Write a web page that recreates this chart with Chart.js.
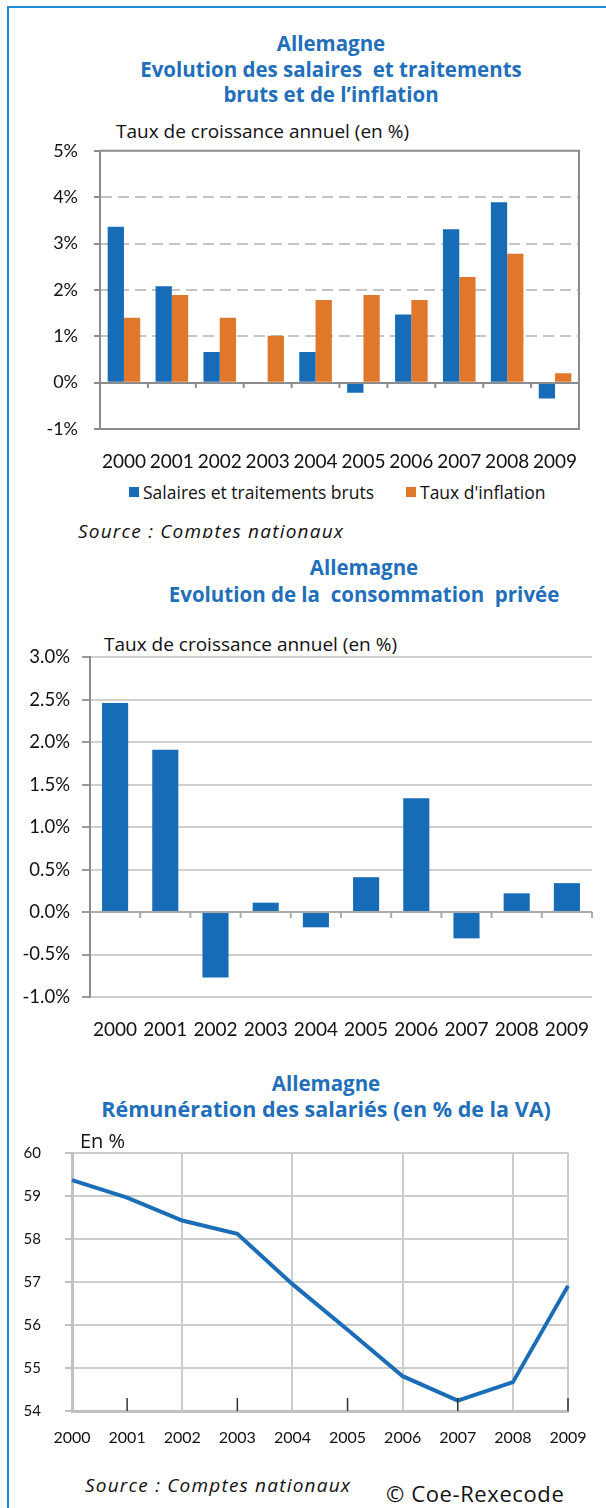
<!DOCTYPE html>
<html lang="fr">
<head>
<meta charset="utf-8">
<title>Allemagne</title>
<script src="https://cdn.jsdelivr.net/npm/chart.js"></script>
<style>
    body {
        margin: 0;
        padding: 0;
        background: #fff;
        font-family: 'Open Sans', sans-serif;
        color: #111;
    }
    #page {
        position: relative;
        width: 606px;
        height: 1508px;
        overflow: hidden;
    }
    /* blue frame on the left and top */
    .frame {
        position: absolute;
        left: 7px;
        top: 6px;
        right: -4px;
        bottom: -4px;
        border-left: 2px solid #1d8ad6;
        border-top: 2px solid #1d8ad6;
    }
    .t { position: absolute; white-space: nowrap; }
    .title {
        color: #1f6fbb;
        font-weight: bold;
        font-size: 20.5px;
        line-height: 24px;
        width: 600px;
        text-align: center;
    }
    .sub { font-size: 19px; line-height: 24px; }
    .src { font-style: italic; font-size: 19px; line-height: 22px; letter-spacing: 1.2px; }
    .sq { position: absolute; width: 10px; height: 10px; }
    canvas { position: absolute; }
</style>
</head>
<body>
<div id="page">
    <div class="frame"></div>

    <!-- chart 1 -->
    <div class="t title" style="left:31px; top:31px;">Allemagne</div>
    <div class="t title" style="left:31px; top:57px;">Evolution des salaires&nbsp; et traitements</div>
    <div class="t title" style="left:31px; top:82px;">bruts et de l’inflation</div>
    <div class="t sub" style="left:116px; top:119px;">Taux de croissance annuel (en %)</div>
    <canvas id="salaires" width="606" height="356" style="left:0; top:124px;"></canvas>
    <div class="sq" style="left:129px; top:487px; background:#176cb7;"></div>
    <div class="t" style="left:143px; top:480px; font-size:17.5px; line-height:24px;">Salaires et traitements bruts</div>
    <div class="sq" style="left:406px; top:487px; background:#e0772b;"></div>
    <div class="t" style="left:420px; top:480px; font-size:17.5px; line-height:24px;">Taux d'inflation</div>
    <div class="t src" style="left:78px; top:520px; height:18px; overflow:hidden;">Source : Comptes nationaux</div>

    <!-- chart 2 -->
    <div class="t title" style="left:64px; top:555px;">Allemagne</div>
    <div class="t title" style="left:64px; top:582px;">Evolution de la&nbsp; consommation&nbsp; privée</div>
    <div class="t sub" style="left:104px; top:632px;">Taux de croissance annuel (en %)</div>
    <canvas id="conso" width="606" height="416" style="left:0; top:634px;"></canvas>

    <!-- chart 3 -->
    <div class="t title" style="left:26px; top:1071px;">Allemagne</div>
    <div class="t title" style="left:26px; top:1097px; font-size:21.5px;">Rémunération des salariés (en % de la VA)</div>
    <canvas id="remu" width="606" height="340" style="left:0; top:1120px;"></canvas>
    <div class="t" style="left:80px; top:1129px; font-size:20px; line-height:24px;">En %</div>
    <div class="t src" style="left:85px; top:1474px;">Source : Comptes nationaux</div>
    <div class="t" style="left:386px; top:1480px; font-size:22px; line-height:26px; letter-spacing:0.6px;">© Coe-Rexecode</div>
</div>

<script>
    // data
    const years = ['2000', '2001', '2002', '2003', '2004', '2005', '2006', '2007', '2008', '2009'];
    const salaires = [3.36, 2.08, 0.66, 0, 0.66, -0.22, 1.47, 3.31, 3.89, -0.34];
    const inflation = [1.40, 1.89, 1.40, 1.01, 1.78, 1.89, 1.78, 2.28, 2.78, 0.20];
    const consommation = [2.46, 1.91, -0.77, 0.11, -0.18, 0.41, 1.34, -0.31, 0.22, 0.34];
    const remuneration = [59.37, 58.96, 58.43, 58.12, 56.95, 55.89, 54.81, 54.24, 54.67, 56.91];

    const yRange1 = [-1, 5];
    const yRange2 = [-1, 3];
    const yRange3 = [54, 60];

    const blue = '#176cb7';
    const orange = '#e0772b';

    Chart.defaults.font.family = 'Lato, sans-serif';
    Chart.defaults.color = '#111';
    Chart.defaults.animation = false;

    // zero line with small ticks between categories, optional top/right box
    const zeroAxis = {
        id: 'zeroAxis',
        afterDatasetsDraw(chart, args, opts) {
            const { ctx, chartArea: a, scales: { x, y } } = chart;
            ctx.save();
            ctx.strokeStyle = opts.color;
            ctx.lineWidth = 2;
            ctx.beginPath();
            if (opts.box) {
                ctx.moveTo(a.left, a.top);
                ctx.lineTo(a.right, a.top);
                ctx.lineTo(a.right, a.bottom);
            }
            const y0 = Math.round(y.getPixelForValue(0));
            ctx.moveTo(a.left, y0);
            ctx.lineTo(a.right, y0);
            for (let i = 1; i <= years.length; i++) {
                const px = x.getPixelForValue(i - 0.5);
                ctx.moveTo(px, y0);
                ctx.lineTo(px, y0 + opts.tick);
            }
            ctx.stroke();
            ctx.restore();
        }
    };

    // dark tick marks on odd years for the line chart
    const oddTicks = {
        id: 'oddTicks',
        afterDraw(chart) {
            const { ctx, chartArea: a, scales: { x } } = chart;
            ctx.save();
            ctx.strokeStyle = '#333';
            ctx.lineWidth = 1.5;
            ctx.beginPath();
            for (let i = 1; i < years.length; i += 2) {
                const px = x.getPixelForValue(i);
                ctx.moveTo(px, a.bottom);
                ctx.lineTo(px, a.bottom - 13);
            }
            ctx.stroke();
            ctx.restore();
        }
    };

    // chart 1 : salaires et inflation
    new Chart(document.getElementById('salaires'), {
        type: 'bar',
        data: {
            labels: years,
            datasets: [
                { label: 'Salaires et traitements bruts', data: salaires, backgroundColor: blue },
                { label: "Taux d'inflation", data: inflation, backgroundColor: orange }
            ]
        },
        options: {
            responsive: false,
            layout: { padding: { top: 10, right: 27, left: 0, bottom: 0 } },
            categoryPercentage: 0.68,
            barPercentage: 1,
            plugins: {
                legend: { display: false },
                tooltip: { enabled: false },
                zeroAxis: { color: '#8c8c8c', box: true, tick: 5 }
            },
            scales: {
                x: {
                    afterFit: s => { s.height = 51; },
                    grid: { display: false },
                    border: { display: true, color: '#8c8c8c', width: 2 },
                    ticks: { padding: 13, autoSkip: false, maxRotation: 0, font: { size: 19 } }
                },
                y: {
                    min: yRange1[0],
                    max: yRange1[1],
                    afterFit: s => { s.width = 100; },
                    grid: {
                        color: c => [5, 0, -1].includes(c.tick.value) ? 'rgba(0,0,0,0)' : '#c4c4c4',
                        lineWidth: 2,
                        tickColor: '#8c8c8c',
                        tickLength: 6
                    },
                    border: { display: true, color: '#8c8c8c', width: 2, dash: [11, 6] },
                    ticks: { stepSize: 1, padding: 16, font: { size: 18 }, callback: v => v + '%' }
                }
            }
        },
        plugins: [zeroAxis]
    });

    // chart 2 : consommation privée
    new Chart(document.getElementById('conso'), {
        type: 'bar',
        data: {
            labels: years,
            datasets: [{ label: 'Consommation privée', data: consommation, backgroundColor: blue }]
        },
        options: {
            responsive: false,
            layout: { padding: { top: 8, right: 14, left: 0, bottom: 0 } },
            categoryPercentage: 1,
            barPercentage: 0.52,
            plugins: {
                legend: { display: false },
                tooltip: { enabled: false },
                zeroAxis: { color: '#aaaaaa', box: false, tick: 6 }
            },
            scales: {
                x: {
                    afterFit: s => { s.height = 53; },
                    grid: { display: false },
                    border: { display: false },
                    ticks: { padding: 13, autoSkip: false, maxRotation: 0, font: { size: 19 } }
                },
                y: {
                    min: yRange2[0],
                    max: yRange2[1],
                    afterFit: s => { s.width = 90; },
                    grid: {
                        color: c => c.tick.value === 0 ? 'rgba(0,0,0,0)' : '#cfcfcf',
                        lineWidth: 2,
                        tickColor: '#9a9a9a',
                        tickLength: 8
                    },
                    border: { display: true, color: '#8c8c8c', width: 2 },
                    ticks: { stepSize: 0.5, padding: 12, font: { size: 18.5 }, callback: v => v.toFixed(1) + '%' }
                }
            }
        },
        plugins: [zeroAxis]
    });

    // chart 3 : rémunération des salariés
    new Chart(document.getElementById('remu'), {
        type: 'line',
        data: {
            labels: years,
            datasets: [{
                label: 'Rémunération des salariés',
                data: remuneration,
                borderColor: '#1c6db8',
                borderWidth: 4,
                pointRadius: 0,
                tension: 0,
                fill: false
            }]
        },
        options: {
            responsive: false,
            layout: { padding: { top: 12, right: 38, left: 0, bottom: 0 } },
            plugins: {
                legend: { display: false },
                tooltip: { enabled: false }
            },
            scales: {
                x: {
                    offset: false,
                    afterFit: s => { s.height = 49; },
                    grid: {
                        color: c => (c.index % 2 === 0 || c.index === years.length - 1) ? '#cccccc' : 'rgba(0,0,0,0)',
                        lineWidth: 2,
                        drawTicks: false
                    },
                    border: { display: true, color: '#c0c0c0', width: 3 },
                    ticks: { padding: 17, autoSkip: false, maxRotation: 0, font: { size: 16 } }
                },
                y: {
                    min: yRange3[0],
                    max: yRange3[1],
                    afterFit: s => { s.width = 72; },
                    grid: { color: '#cccccc', lineWidth: 2, tickColor: '#c0c0c0', tickLength: 7 },
                    border: { display: true, color: '#c0c0c0', width: 3 },
                    ticks: { stepSize: 1, padding: 24, font: { size: 15 } }
                }
            }
        },
        plugins: [oddTicks]
    });
</script>
</body>
</html>
